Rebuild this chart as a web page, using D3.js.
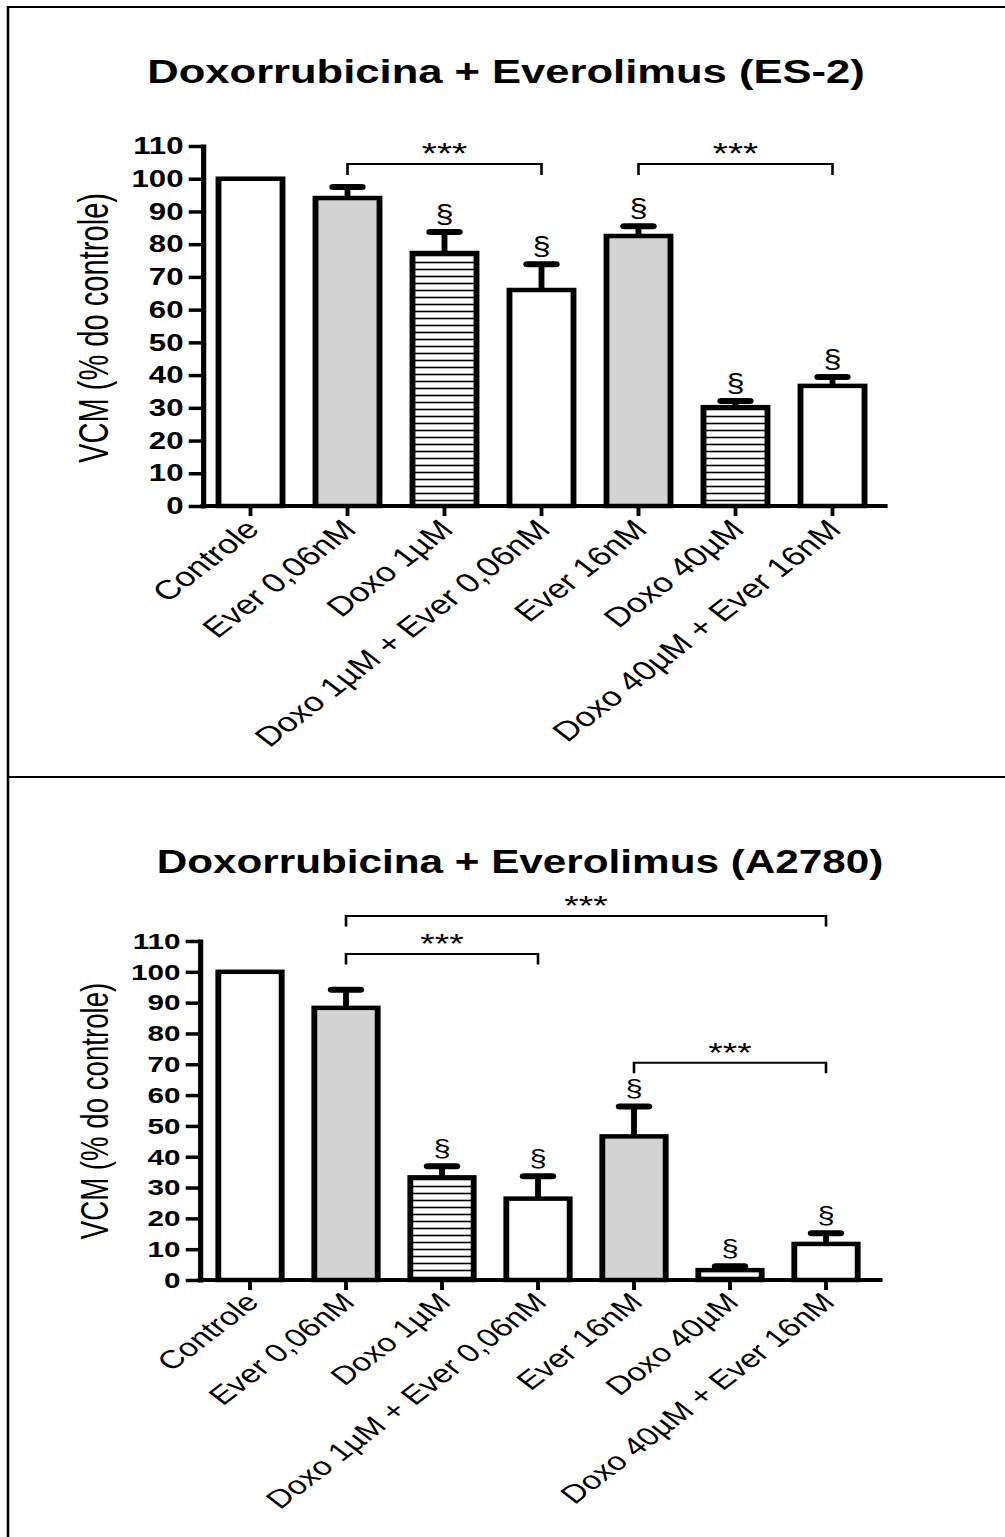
<!DOCTYPE html>
<html>
<head>
<meta charset="utf-8">
<script src="https://cdn.jsdelivr.net/npm/d3@7"></script>
<style>
  body { margin: 0; background: #fff; }
  svg { display: block; }
  text { font-family: "Liberation Sans", Arial, sans-serif; fill: #000; }
</style>
</head>
<body>
<svg id="fig"></svg>
<script>
const categories = ["Controle", "Ever 0,06nM", "Doxo 1µM", "Doxo 1µM + Ever 0,06nM",
                    "Ever 16nM", "Doxo 40µM", "Doxo 40µM + Ever 16nM"];
const yTickValues = [0, 10, 20, 30, 40, 50, 60, 70, 80, 90, 100, 110];

// ES-2
const es2Means    = [100, 94.1, 77.3, 66.0, 82.5, 30.2, 36.7];
const es2Errors   = [0, 3.4, 6.4, 7.9, 3.0, 1.9, 2.7];
const es2Marks    = ["", "", "§", "§", "§", "§", "§"];
const es2Brackets = [[1, 3, 104.5, "***"], [4, 6, 104.5, "***"]];   // from, to, level

// A2780
const a2780Means    = [100, 88.3, 33.3, 26.4, 46.6, 3.2, 11.7];
const a2780Errors   = [0, 5.9, 3.6, 7.3, 9.7, 1.3, 3.5];
const a2780Marks    = ["", "", "§", "§", "§", "§", "§"];
const a2780Brackets = [[1, 6, 118.1, "***"], [1, 3, 105.8, "***"], [4, 6, 70.5, "***"]];

// the picture is stretched sideways, so draw in a narrower box and scale it out
const SX = 1.3;
const W = 1005, H = 1537;

const svg = d3.select("#fig")
  .attr("width", W).attr("height", H)
  .attr("viewBox", `0 0 ${W / SX} ${H}`)
  .attr("preserveAspectRatio", "none");

const pat = svg.append("defs").append("pattern")
  .attr("id", "hatch").attr("patternUnits", "userSpaceOnUse")
  .attr("width", 8).attr("height", 7);
pat.append("rect").attr("width", 8).attr("height", 7).attr("fill", "#fff");
pat.append("line").attr("x1", 0).attr("x2", 8).attr("y1", 3.5).attr("y2", 3.5)
  .attr("stroke", "#000").attr("stroke-width", 1.6);

const fills = ["#fff", "#d3d3d3", "url(#hatch)", "#fff", "#d3d3d3", "url(#hatch)", "#fff"];

// frame lines
svg.append("path")
  .attr("d", `M${8 / SX},${H} V7 H${W / SX}`)
  .attr("fill", "none").attr("stroke", "#000").attr("stroke-width", 2);
svg.append("line")
  .attr("x1", 8 / SX).attr("x2", W / SX).attr("y1", 777).attr("y2", 777)
  .attr("stroke", "#000").attr("stroke-width", 2);

const panels = [
  { title: "Doxorrubicina + Everolimus (ES-2)", means: es2Means, errors: es2Errors,
    marks: es2Marks, brackets: es2Brackets,
    titleX: 506, titleY: 83, titleSize: 33.5,
    top: 146, bottom: 506, axisX: 203, bandStart: 202, bandEnd: 881, axisEnd: 885,
    labelX: 108, labelY: 328, k: 1 },
  { title: "Doxorrubicina + Everolimus (A2780)", means: a2780Means, errors: a2780Errors,
    marks: a2780Marks, brackets: a2780Brackets,
    titleX: 520, titleY: 873, titleSize: 32.5,
    top: 941, bottom: 1280, axisX: 200, bandStart: 202, bandEnd: 874, axisEnd: 880,
    labelX: 108, labelY: 1111, k: 0.95 }
];

panels.forEach(p => {
  const g = svg.append("g");
  const k = p.k;

  const x = d3.scaleBand().domain(categories)
    .range([p.bandStart / SX, p.bandEnd / SX])
    .paddingInner(0.34).paddingOuter(0.17);
  const y = d3.scaleLinear().domain([0, 110]).range([p.bottom, p.top]);

  // title
  g.append("text")
    .attr("x", p.titleX / SX).attr("y", p.titleY)
    .attr("text-anchor", "middle")
    .attr("font-weight", "bold").attr("font-size", p.titleSize)
    .text(p.title);

  // y label
  g.append("text")
    .attr("transform", `translate(${p.labelX / SX},${p.labelY}) rotate(-90)`)
    .attr("text-anchor", "middle")
    .attr("font-size", 32 * k)
    .attr("textLength", 270 * k).attr("lengthAdjust", "spacingAndGlyphs")
    .text("VCM (% do controle)");

  // bars
  g.selectAll("rect.bar").data(p.means).join("rect")
    .attr("class", "bar")
    .attr("x", (d, i) => x(categories[i]))
    .attr("width", x.bandwidth())
    .attr("y", d => y(d))
    .attr("height", d => y(0) - y(d))
    .attr("fill", (d, i) => fills[i])
    .attr("stroke", "#000").attr("stroke-width", 4.5);

  // error bars
  const errs = p.means.map((m, i) => ({ m, e: p.errors[i], c: categories[i], mark: p.marks[i] }));
  const eg = g.selectAll("g.err").data(errs.filter(d => d.e > 0)).join("g").attr("class", "err");
  eg.append("line")
    .attr("x1", d => x(d.c) + x.bandwidth() / 2).attr("x2", d => x(d.c) + x.bandwidth() / 2)
    .attr("y1", d => y(d.m)).attr("y2", d => y(d.m + d.e))
    .attr("stroke", "#000").attr("stroke-width", 4.5);
  eg.append("line")
    .attr("x1", d => x(d.c) + x.bandwidth() / 2 - 11).attr("x2", d => x(d.c) + x.bandwidth() / 2 + 11)
    .attr("y1", d => y(d.m + d.e)).attr("y2", d => y(d.m + d.e))
    .attr("stroke", "#000").attr("stroke-width", 6).attr("stroke-linecap", "round");

  // § marks
  g.selectAll("text.mark").data(errs.filter(d => d.mark)).join("text")
    .attr("class", "mark")
    .attr("x", d => x(d.c) + x.bandwidth() / 2)
    .attr("y", d => y(d.m + d.e) - 9)
    .attr("text-anchor", "middle").attr("font-size", 25 * k)
    .text(d => d.mark);

  // y axis
  g.append("g")
    .attr("transform", `translate(${p.axisX / SX},0)`)
    .call(d3.axisLeft(y).tickValues(yTickValues).tickSize(11).tickSizeOuter(0).tickPadding(4))
    .call(a => a.select(".domain").attr("stroke-width", 4).attr("stroke-linecap", "square"))
    .call(a => a.selectAll(".tick line").attr("stroke-width", 3.5))
    .call(a => a.selectAll(".tick text")
      .attr("font-size", 24 * k).attr("font-weight", "bold")
      .attr("font-family", "'Liberation Sans', Arial, sans-serif").attr("fill", "#000"));

  // x axis
  g.append("g")
    .attr("transform", `translate(0,${p.bottom})`)
    .call(d3.axisBottom(x).tickSize(10).tickSizeOuter(0))
    .call(a => a.select(".domain").remove())
    .call(a => a.selectAll(".tick line").attr("stroke-width", 3))
    .call(a => a.selectAll(".tick text")
      .attr("x", 0).attr("y", 0).attr("dy", 0)
      .attr("transform", `translate(8,${25 * k}) rotate(-45)`)
      .attr("text-anchor", "end")
      .attr("font-size", 27 * k)
      .attr("font-family", "'Liberation Sans', Arial, sans-serif").attr("fill", "#000"));
  g.append("line")
    .attr("x1", p.axisX / SX).attr("x2", p.axisEnd / SX)
    .attr("y1", p.bottom).attr("y2", p.bottom)
    .attr("stroke", "#000").attr("stroke-width", 4).attr("stroke-linecap", "square");

  // significance brackets
  p.brackets.forEach(([a, b, level, label]) => {
    const x1 = x(categories[a]) + x.bandwidth() / 2;
    const x2 = x(categories[b]) + x.bandwidth() / 2;
    const yb = y(level);
    g.append("path")
      .attr("d", `M${x1},${yb + 11 * k} V${yb} H${x2} V${yb + 11 * k}`)
      .attr("fill", "none").attr("stroke", "#000").attr("stroke-width", 2);
    g.append("text")
      .attr("x", (x1 + x2) / 2).attr("y", yb - 1)
      .attr("text-anchor", "middle").attr("font-size", 30 * k)
      .text(label);
  });
});
</script>
</body>
</html>
